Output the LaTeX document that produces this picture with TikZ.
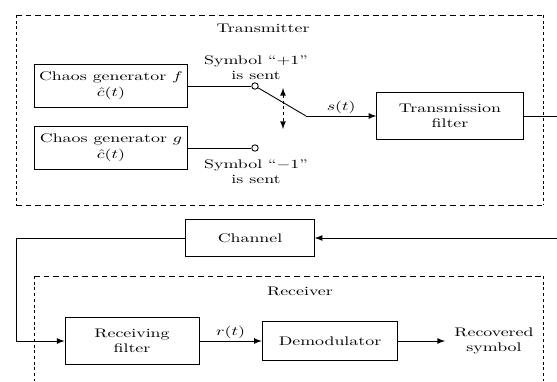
\documentclass[tikz,border=0pt]{standalone}
\usepackage{amssymb}
\usepackage{mathtools}
\usepackage{xcolor}
\usepackage{tikz}

\begin{document}
\begin{tikzpicture}[x=0.56pt, y=-0.56pt, line width=0.5pt,
        flat/.style={yscale=0.7},
        block/.style={draw, flat, align=center, inner sep=2pt},
        lbl/.style={flat, align=center, inner sep=2pt},
        pin/.style={draw, circle, inner sep=0pt, minimum size=3.6pt, fill=white},
        hdash/.style={dash pattern=on 3.2pt off 2.2pt},
        vdash/.style={dash pattern=on 1.7pt off 1.5pt}]
            \useasboundingbox (0,0) rectangle (557,381);
            % Transmitter frame
            \draw[hdash] (16,15) -- (543,15) (16,205) -- (543,205);
            \draw[vdash] (16,15) -- (16,205) (543,15) -- (543,205);
                        \node[lbl] (txname) at (263,28) {Transmitter};
                        \node[block, minimum width=86pt, minimum height=35pt] (genf) at (111,86) {Chaos generator $f$\\[1pt]$\hat{c}(t)$};
                        \node[block, minimum width=86pt, minimum height=35pt] (geng) at (111,148) {Chaos generator $g$\\[1pt]$\hat{c}(t)$};
                        \node[block, minimum width=82pt, minimum height=37pt] (txf) at (450,116) {Transmission\\filter};
                        \node[lbl] (plus) at (256,68) {Symbol ``$+1$''\\is sent};
                        \node[lbl] (minus) at (256,172) {Symbol ``$-1$''\\is sent};
            % Switch between the two generators
                        \node[pin] (cf) at (255,86) {};
                        \node[pin] (cg) at (255,148) {};
                        \coordinate (sw) at (306,116);
                        \coordinate (swtop) at (283,88);
                        \coordinate (swbot) at (283,129);
                        \coordinate (txout) at (557,116);
            \draw (genf.east) -- (cf.west);
            \draw (geng.east) -- (cg.west);
            \draw (cf) -- (sw);
            \draw[vdash, latex-latex] (swtop) -- (swbot);
            \draw[-latex] (sw) -- node[lbl, above] (st) {$s(t)$} (txf.west);
            \draw (txf.east) -- (txout);
            % Channel
                        \node[block, minimum width=72pt, minimum height=30pt] (chan) at (250,238) {Channel};
                        \coordinate (chin) at (557,238);
                        \coordinate (bend) at (16,341);
            \draw[-latex] (chin) -- (chan.east);
            % Receiver frame
            \draw[hdash] (34,276) -- (543,276);
            \draw[vdash] (34,276) -- (34,381) (543,276) -- (543,381);
                        \node[lbl] (rxname) at (300,291) {Receiver};
                        \node[block, minimum width=75pt, minimum height=38pt] (rxf) at (132,341) {Receiving\\filter};
                        \node[block, minimum width=76pt, minimum height=31pt] (demod) at (330,341) {Demodulator};
                        \node[lbl, inner sep=5pt] (rec) at (494,341) {Recovered\\symbol};
            \draw[-latex] (chan.west) -| (bend) -- (rxf.west);
            \draw[-latex] (rxf.east) -- node[lbl, above] (rt) {$r(t)$} (demod.west);
            \draw[-latex] (demod.east) -- (rec.west);
        \end{tikzpicture}
\end{document}
